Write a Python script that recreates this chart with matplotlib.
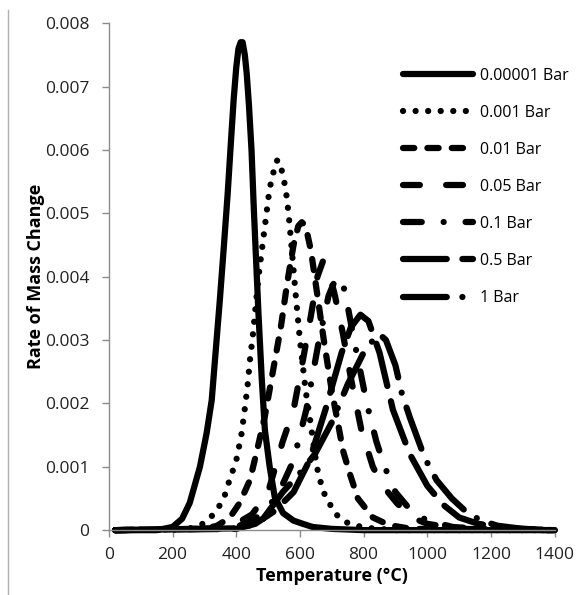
import matplotlib
matplotlib.use("Agg")
import matplotlib.pyplot as plt
from matplotlib.lines import Line2D
from matplotlib.ticker import FuncFormatter

plt.rcParams['font.family'] = ['Open Sans', 'DejaVu Sans']

# temperature (C) and rate of mass change per pressure
labels = ['0.00001 Bar', '0.001 Bar', '0.01 Bar', '0.05 Bar', '0.1 Bar', '0.5 Bar', '1 Bar']

t_00001 = [20, 150, 200, 230, 254, 286, 307, 323, 348, 360, 373, 383, 392, 400, 407, 414, 420,
           427, 433, 440, 448, 455, 462, 470, 480, 490, 505, 521, 547, 580, 609, 640, 700, 800,
           1400]
r_00001 = [0, 0, 0.00005, 0.00018, 0.00043, 0.0010, 0.00153, 0.00205, 0.0036, 0.0044, 0.0053,
           0.0061, 0.0068, 0.0073, 0.0076, 0.0077, 0.0077, 0.0075, 0.0072, 0.0067, 0.0060,
           0.0051, 0.0043, 0.0034, 0.0024, 0.00158, 0.0010, 0.00052, 0.00027, 0.00015, 0.0001,
           0.00005, 0.00002, 0, 0]

t_0001 = [20, 250, 295, 327, 348, 364, 377, 390, 402, 417, 427, 436, 443, 452, 470, 485, 495,
          505, 515, 523, 530, 538, 546, 555, 562, 568, 587, 600, 618, 631, 653, 672, 709, 741,
          800, 900, 1400]
r_0001 = [0, 0.00002, 0.0001, 0.00024, 0.00039, 0.00055, 0.00076, 0.00095, 0.00114, 0.00153,
          0.00192, 0.0023, 0.00268, 0.00307, 0.0040, 0.0046, 0.0050, 0.0054, 0.0056, 0.0058,
          0.00584, 0.0058, 0.0056, 0.0054, 0.0051, 0.0048, 0.0037, 0.0030, 0.0022, 0.00177,
          0.0010, 0.00062, 0.00027, 0.00013, 0.00004, 0, 0]

t_001 = [20, 300, 340, 380, 411, 443, 464, 490, 515, 540, 560, 580, 595, 606, 618, 635, 655,
         675, 700, 719, 735, 756, 782, 829, 880, 950, 1400]
r_001 = [0, 0.00002, 0.00007, 0.0002, 0.00043, 0.00079, 0.00123, 0.0018, 0.0025, 0.0032,
         0.0039, 0.0045, 0.0048, 0.00486, 0.0048, 0.0044, 0.0037, 0.0030, 0.0022, 0.0017,
         0.00126, 0.0009, 0.0005, 0.0002, 0.00008, 0.00002, 0]

t_005 = [20, 350, 400, 450, 500, 546, 580, 610, 635, 655, 672, 690, 710, 735, 760, 793, 829,
         860, 904, 950, 1000, 1100, 1400]
r_005 = [0, 0.00003, 0.0001, 0.00025, 0.0006, 0.0014, 0.0019, 0.0027, 0.0034, 0.0040, 0.00424,
         0.0041, 0.0037, 0.0031, 0.0024, 0.00158, 0.0010, 0.0007, 0.00043, 0.0002, 0.0001,
         0.00002, 0]

t_01 = [20, 380, 430, 480, 530, 580, 620, 660, 690, 715, 740, 770, 810, 840, 866, 900, 950,
        1000, 1080, 1200, 1400]
r_01 = [0, 0.00003, 0.0001, 0.00025, 0.00055, 0.0011, 0.0019, 0.0030, 0.0037, 0.0040, 0.0038,
        0.0030, 0.0020, 0.0014, 0.0010, 0.0006, 0.0003, 0.00015, 0.00005, 0.00001, 0]

t_05 = [20, 400, 460, 520, 580, 630, 680, 731, 760, 790, 815, 850, 892, 945, 1000, 1050, 1100,
        1160, 1250, 1400]
r_05 = [0, 0.00002, 0.0001, 0.0003, 0.0006, 0.0011, 0.0019, 0.0028, 0.0032, 0.0034, 0.0033,
        0.0028, 0.0019, 0.0012, 0.0007, 0.0004, 0.0002, 0.0001, 0.00003, 0]

t_1 = [20, 420, 480, 546, 600, 647, 700, 750, 800, 830, 848, 870, 900, 920, 945, 992, 1029,
       1077, 1120, 1165, 1220, 1300, 1400]
r_1 = [0, 0.00003, 0.00015, 0.0006, 0.0009, 0.0012, 0.0017, 0.0023, 0.0028, 0.0030, 0.0031,
       0.0030, 0.0026, 0.00216, 0.00178, 0.00114, 0.00079, 0.0005, 0.0003, 0.00016, 0.00007,
       0.00002, 0]

series = [(t_00001, r_00001), (t_0001, r_0001), (t_001, r_001), (t_005, r_005),
          (t_01, r_01), (t_05, r_05), (t_1, r_1)]

# dash patterns, in units of line width
styles = ['-', (0, (0.01, 2.0)), (0, (1.8, 2.1)), (0, (2.7, 4.2)),
          (0, (3.0, 3.5, 0.01, 3.5)), (0, (7.0, 2.5)), (0, (7.0, 2.5, 0.01, 2.5))]

fig = plt.figure(figsize=(5.79, 5.95), dpi=100)
ax = fig.add_axes([0.188, 0.109, 0.770, 0.852])

for (t, r), ls, lab in zip(series, styles, labels):
    ax.plot(t, r, color='black', linewidth=4.5, linestyle=ls, label=lab,
            dash_capstyle='round', solid_capstyle='round', solid_joinstyle='round',
            clip_on=False)

ax.set_xlim(0, 1400)
ax.set_ylim(0, 0.008)
ax.set_xticks(range(0, 1401, 200))
ax.set_yticks([i * 0.001 for i in range(9)])
ax.yaxis.set_major_formatter(FuncFormatter(lambda v, p: '0' if v == 0 else f'{v:.3f}'))

for side in ['top', 'right']:
    ax.spines[side].set_visible(False)
for side in ['left', 'bottom']:
    ax.spines[side].set_color('#8c8c8c')
    ax.spines[side].set_linewidth(1)
ax.tick_params(axis='both', direction='out', length=5, color='#8c8c8c', width=1,
               labelsize=12.5, labelcolor='#222222', pad=7)
ax.tick_params(axis='y', pad=9)

ax.set_xlabel('Temperature (°C)', fontsize=13, fontweight='bold', labelpad=3)
ax.set_ylabel('Rate of Mass Change', fontsize=13, fontweight='bold', labelpad=0)

leg = ax.legend(loc='upper left', bbox_to_anchor=(0.645, 0.925), frameon=False,
                fontsize=11.5, handlelength=4.4, handletextpad=0.45, labelspacing=1.32,
                borderaxespad=0)

# thin page border at the left edge
fig.add_artist(Line2D([8 / 579, 8 / 579], [0, 1 - 10 / 595], color='#b0b0b0', linewidth=1))

fig.savefig('out.png', dpi=100)
